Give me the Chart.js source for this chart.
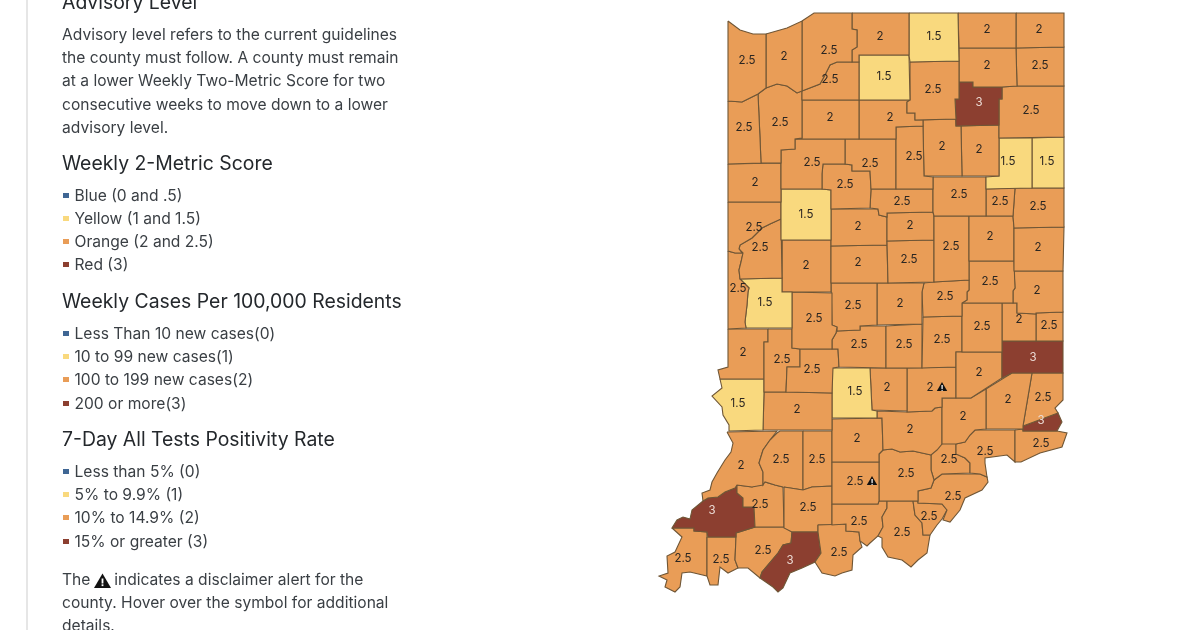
<!DOCTYPE html>
<html>
<head>
<meta charset="utf-8">
<script src="https://cdn.jsdelivr.net/npm/chart.js@4"></script>
<style>
  html, body { margin: 0; padding: 0; background: #fff; }
  body { width: 1200px; height: 630px; overflow: hidden; position: relative; font-family: Inter, "Open Sans", sans-serif; color: #3a3f44; }
  #map { position: absolute; left: 0; top: 0; }
  #rule { position: absolute; left: 26px; top: 0; width: 2px; height: 630px; background: #e6e6e6; }
  .t { position: absolute; left: 62px; white-space: nowrap; font-size: 15.6px; line-height: 20px; }
  .h { font-size: 19.4px; line-height: 26px; color: #24282c; }
  .k { position: absolute; left: 63px; width: 5.5px; height: 5.5px; }
  .t svg { vertical-align: -3px; margin: 0 -1px 0 -1px; }
</style>
</head>
<body>
<div id="rule"></div>
<canvas id="map" width="1200" height="630"></canvas>
<div id="side"></div>
<script>
const counties = ['Lake','Porter','LaPorte','St. Joseph','Elkhart','LaGrange','Steuben','Starke','Marshall','Kosciusko','Noble','DeKalb','Whitley','Allen',
  'Newton','Jasper','Pulaski','Fulton','White','Miami','Carroll','Wabash','Huntington','Wells','Adams','Benton','Cass','Tippecanoe','Grant','Howard','Blackford','Jay',
  'Randolph','Delaware','Madison','Tipton','Hamilton','Clinton','Boone','Warren','Fountain','Vermillion','Parke','Montgomery','Putnam','Hendricks','Marion','Hancock',
  'Henry','Wayne','Rush','Fayette','Union','Franklin','Decatur','Shelby','Johnson','Morgan','Owen','Clay','Vigo','Sullivan','Greene','Monroe','Brown','Bartholomew',
  'Jennings','Ripley','Dearborn','Ohio','Switzerland','Jefferson','Jackson','Lawrence','Orange','Washington','Scott','Clark','Floyd','Harrison','Crawford','Perry',
  'Spencer','Dubois','Martin','Daviess','Knox','Pike','Gibson','Warrick','Vanderburgh','Posey'];

const scores = [2.5,2,2.5,2,1.5,2,2,2.5,1.5,2.5,2,2.5,3,2.5,
  2.5,2.5,2,2,2.5,2.5,2.5,2,2,1.5,1.5,2,2.5,1.5,2.5,2.5,2.5,2.5,
  2,2,2.5,2,2.5,2,2,2.5,2.5,2.5,1.5,2,2.5,2.5,2,2.5,
  2.5,2,2.5,2,2.5,3,2,2.5,2.5,2.5,2.5,2.5,2,1.5,2,1.5,2,2,
  2,2,2.5,3,2.5,2.5,2,2,2.5,2.5,2.5,2.5,2.5,2.5,2.5,2.5,
  3,2.5,2.5,2.5,2,2.5,3,2.5,2.5,2.5];

const labelX = [747,784,829,880,934,987,1039,830,884,933,987,1040,979,1031,
  744,780,830,890,812,914,870,942,979,1008,1047,755,845,806,959,902,1000,1038,
  1038,990,951,910,909,858,858,754,760,738,765,806,814,853,900,945,
  990,1037,982,1019,1049,1033,979,942,904,859,812,782,743,738,797,855,887,930,
  963,1008,1043,1041,1041,985,910,857,855,906,949,953,929,902,859,839,
  790,808,817,781,741,760,712,763,721,683];
const labelY = [61,57,51,37,37,30,30,80,77,90,66,66,103,111,
  128,123,118,118,163,157,164,147,150,162,162,183,185,215,195,202,202,207,
  248,237,247,226,260,227,263,228,248,289,303,266,319,306,304,297,
  282,291,327,320,326,358,373,340,345,345,370,360,353,404,410,392,388,388,
  417,400,398,421,444,452,430,439,482,474,460,497,517,533,522,553,
  561,508,460,460,466,505,511,551,560,559];

// county outlines, flat x,y pairs in map units
const outlines = [
  [728,21,740,30,753,34,766,34,766,88,758,94,742,102,728,101],
  [766,34,787,28,802,21,802,91,797,93,787,86,777,84,766,88],
  [802,21,814,13,852,13,852,29,857,30,857,47,852,50,852,62,837,62,830,65,825,75,820,84,802,91],
  [852,13,909,13,909,55,859,55,859,62,852,62,852,50,857,47,857,30,852,29],
  [909,13,958,13,959,61,910,62,909,55],
  [958,13,1016,13,1016,48,959,48],
  [1016,13,1064,13,1064,47,1016,48],
  [837,62,859,62,859,100,802,100,802,91,820,84,825,75,830,65],
  [859,55,909,55,910,100,859,100],
  [910,62,959,61,959,99,955,99,956,119,915,120,915,113,907,113,907,102,910,100],
  [959,48,1016,48,1017,86,1002,87,973,87,973,82,959,82],
  [1016,48,1064,47,1064,86,1017,86],
  [959,82,973,82,973,87,1002,87,1002,99,999,99,999,125,956,126,955,99,959,99],
  [1002,87,1017,86,1064,86,1064,137,999,138,999,99,1002,99],
  [728,101,742,102,758,94,760,138,761,163,728,164],
  [758,94,766,88,777,84,787,86,797,93,802,91,802,138,795,139,795,149,781,150,781,163,761,163,760,138],
  [802,100,859,100,859,139,795,139,802,138],
  [859,100,910,100,907,102,907,113,915,113,915,120,923,120,923,126,896,127,896,139,859,139],
  [795,139,845,139,845,164,823,164,822,174,822,189,781,189,781,150,795,149],
  [896,127,923,126,924,176,933,177,933,189,896,189],
  [845,139,896,139,896,189,871,189,870,171,852,171,852,165,845,164],
  [923,120,956,119,956,126,961,126,962,176,924,176,923,126],
  [961,126,999,125,999,176,962,176],
  [999,138,1032,138,1032,188,986,189,986,177,999,176],
  [1032,138,1064,137,1064,188,1032,188],
  [728,164,781,163,781,202,728,202],
  [823,164,845,164,852,165,852,171,870,171,871,189,870,208,831,209,831,190,822,189,822,174],
  [781,189,822,189,831,190,831,240,782,240],
  [933,177,986,177,986,216,934,216,933,212,933,189],
  [871,189,933,189,933,212,887,213,887,217,879,215,878,209,870,208],
  [986,189,1015,188,1013,216,986,216],
  [1015,188,1064,188,1064,227,1014,228,1013,216],
  [1014,228,1064,227,1063,271,1014,271],
  [969,216,1013,216,1014,228,1014,261,969,261],
  [934,216,969,216,969,280,934,282],
  [887,213,933,212,934,216,934,240,887,241],
  [887,241,934,240,934,282,888,283],
  [831,209,878,209,879,215,887,217,887,245,831,246],
  [831,246,887,245,888,283,831,283],
  [728,202,781,202,781,219,770,224,762,228,752,238,740,245,739,249,742,253,735,253,728,251],
  [781,219,782,278,740,279,739,270,741,262,743,253,739,249,740,245,752,238,762,228,770,224],
  [728,251,735,253,743,253,741,262,739,270,740,279,749,288,748,292,747,305,745,322,746,328,728,329],
  [740,279,782,278,782,292,792,292,792,328,746,328,745,322,747,305,748,292,749,288],
  [782,240,831,240,831,292,792,292,782,292],
  [792,292,832,293,832,325,837,327,836,333,832,340,832,349,800,349,792,348],
  [831,283,877,283,877,325,860,326,860,330,837,331,837,327,832,325],
  [877,283,924,283,922,292,922,324,877,325],
  [924,283,934,282,969,280,969,290,967,292,967,300,962,303,962,316,923,317,922,292],
  [969,261,1014,261,1015,288,1013,291,1013,303,962,303,967,300,967,292,969,290],
  [1014,271,1063,271,1063,312,1036,313,1036,314,1017,313,1017,303,1013,303,1013,291,1015,288],
  [962,303,1002,303,1002,352,962,352],
  [1002,303,1017,303,1017,313,1036,314,1036,341,1002,341],
  [1036,313,1063,312,1063,341,1036,341],
  [1002,341,1063,341,1063,373,1012,373,1002,378],
  [962,352,1002,352,1002,378,971,398,956,398,956,367,956,352],
  [923,317,962,316,962,352,956,352,956,367,922,368],
  [886,326,922,324,922,368,886,368],
  [837,331,860,330,860,326,886,326,886,368,839,367,838,349,832,349,832,340,836,333],
  [800,349,838,349,839,367,833,368,832,393,786,392,787,367,800,367],
  [768,329,792,329,792,348,800,349,800,367,787,367,786,392,764,392,764,342,768,342],
  [728,329,768,329,768,342,764,342,764,379,720,379,718,370,728,367],
  [720,379,764,379,764,392,763,430,730,431,729,425,723,415,722,407,712,396,722,388],
  [764,392,786,392,832,393,832,430,763,430],
  [832,368,870,368,872,410,877,411,877,418,832,418],
  [870,368,907,368,907,411,872,410],
  [907,368,956,367,956,398,942,398,942,407,935,408,932,411,907,412],
  [942,398,971,398,986,389,986,429,975,430,970,435,965,442,956,444,942,444],
  [986,389,1012,373,1032,373,1023,426,1023,429,986,429],
  [1032,373,1063,373,1063,400,1055,408,1058,413,1023,426],
  [1023,426,1058,413,1062,422,1057,431,1023,431],
  [1015,430,1023,429,1023,431,1057,431,1067,433,1062,447,1040,453,1021,462,1015,462],
  [975,430,1015,430,1015,462,1007,455,985,458,985,463,987,477,980,474,970,473,970,463,965,458,956,454,956,444,965,442,970,435],
  [877,411,907,412,932,411,935,408,942,407,942,444,937,450,931,455,913,451,900,452,892,449,883,450,882,418,877,418],
  [832,419,882,418,883,450,879,454,879,462,832,462],
  [832,462,879,462,879,501,878,504,832,504],
  [879,454,883,450,892,449,900,452,913,451,931,455,931,470,934,480,931,488,918,491,918,501,879,501],
  [931,455,942,443,956,443,956,454,965,458,970,463,970,473,942,474,934,480,931,470],
  [918,491,931,488,934,480,942,474,980,474,987,477,988,482,982,490,965,498,960,510,950,522,943,520,947,510,942,504,918,503],
  [913,501,918,501,918,503,942,504,947,510,942,519,937,525,930,535,923,535,922,523,915,515],
  [887,501,913,501,915,515,922,523,923,535,930,535,927,553,918,560,911,567,902,560,888,557,882,547,882,538,878,536,883,527,882,517,887,508],
  [832,504,878,504,879,501,887,501,887,508,882,517,883,527,878,536,870,543,867,546,860,541,859,532,846,531,846,524,832,525],
  [818,525,846,524,846,531,859,532,860,541,862,547,853,555,852,570,842,573,835,576,822,573,815,562,821,553,818,532],
  [792,532,818,532,821,553,815,562,802,568,790,573,783,588,778,592,773,587,760,578,762,572,778,553,783,545,791,543],
  [784,487,803,490,812,487,832,486,832,525,818,525,818,532,792,532,784,528],
  [803,431,832,431,832,486,812,487,803,490],
  [780,431,803,431,803,490,783,487,775,485,765,482,763,485,763,472,759,463,763,450,770,440,777,433],
  [727,432,777,431,770,440,763,450,759,463,763,472,763,485,752,487,737,485,735,488,725,492,718,497,708,498,703,501,702,493,710,490,712,482,717,473,725,460,731,452,733,443],
  [737,485,752,487,765,482,775,485,783,487,784,527,755,527,754,507,743,507,743,498,737,493],
  [737,485,737,493,743,498,743,507,754,507,755,527,736,533,736,537,708,537,707,532,694,531,694,528,672,528,677,520,683,517,690,519,692,510,703,501,708,498,718,497,725,492,735,488],
  [736,533,755,527,784,527,792,532,791,543,783,545,778,553,762,572,760,578,748,568,738,568,735,560,736,537],
  [707,537,736,537,735,560,738,568,728,573,720,567,718,585,710,585,707,576],
  [672,528,694,528,694,531,707,532,707,576,690,572,682,573,680,587,675,592,665,587,667,580,659,576,668,573,667,556,675,552,682,537]
];

// counties that carry the disclaimer triangle
const alertCounties = ['Bartholomew','Orange'];
const alertX = [942,872];
const alertY = [388,482];

const scoreColors = { 1.5: '#f9d97e', 2: '#e99d57', 2.5: '#e99d57', 3: '#8c3f30' };

function toPoints(flat) {
  const pts = [];
  for (let i = 0; i < flat.length; i += 2) pts.push({ x: flat[i], y: flat[i + 1] });
  pts.push({ x: flat[0], y: flat[1] });
  return pts;
}

const countyDatasets = counties.map((name, i) => ({
  label: name,
  data: toPoints(outlines[i]),
  showLine: true,
  fill: 'shape',
  tension: 0,
  pointRadius: 0,
  borderWidth: 1.1,
  borderColor: '#6f5636',
  backgroundColor: scoreColors[scores[i]]
}));

const alertDataset = {
  label: 'alert',
  data: alertX.map((x, i) => ({ x: x, y: alertY[i] })),
  pointStyle: 'triangle',
  pointRadius: 6,
  borderWidth: 0,
  backgroundColor: '#111'
};

const scoreLabels = {
  id: 'scoreLabels',
  afterDatasetsDraw(chart) {
    const { ctx, scales: { x, y } } = chart;
    ctx.save();
    ctx.font = '11.5px Inter, "Open Sans", sans-serif';
    ctx.textAlign = 'center';
    ctx.textBaseline = 'middle';
    scores.forEach((s, i) => {
      ctx.fillStyle = s === 3 ? '#ecdcd6' : '#2b2622';
      ctx.fillText(String(s), x.getPixelForValue(labelX[i]), y.getPixelForValue(labelY[i]));
    });
    ctx.fillStyle = '#fff';
    ctx.font = 'bold 8px Inter, sans-serif';
    alertX.forEach((ax, i) => ctx.fillText('!', x.getPixelForValue(ax), y.getPixelForValue(alertY[i]) + 1));
    ctx.restore();
  }
};

new Chart(document.getElementById('map'), {
  type: 'scatter',
  data: { datasets: [alertDataset].concat(countyDatasets) },
  options: {
    responsive: false,
    animation: false,
    layout: { padding: 0, autoPadding: false },
    plugins: { legend: { display: false }, tooltip: { enabled: false } },
    scales: {
      x: { type: 'linear', display: false, min: 0, max: 1200 },
      y: { type: 'linear', display: false, min: 0, max: 630, reverse: true }
    }
  },
  plugins: [scoreLabels]
});

// left column text
const paragraphLines = ['Advisory level refers to the current guidelines','the county must follow. A county must remain','at a lower Weekly Two-Metric Score for two','consecutive weeks to move down to a lower','advisory level.'];
const paragraphY = [35,58,81,105,128];
const headings = ['Advisory Level','Weekly 2-Metric Score','Weekly Cases Per 100,000 Residents','7-Day All Tests Positivity Rate'];
const headingY = [2,163,301,439];
const legendItems = ['Blue (0 and .5)','Yellow (1 and 1.5)','Orange (2 and 2.5)','Red (3)',
  'Less Than 10 new cases(0)','10 to 99 new cases(1)','100 to 199 new cases(2)','200 or more(3)',
  'Less than 5% (0)','5% to 9.9% (1)','10% to 14.9% (2)','15% or greater (3)'];
const legendY = [196,219,242,265,334,357,380,404,472,495,518,542];
const legendColors = ['#3f6694','#f9d97e','#e99d57','#8c3f30'];
const noteLines = ['county. Hover over the symbol for additional','details.'];
const noteY = [603,626];

const side = document.getElementById('side');
function addLine(text, y, cls, h) {
  const d = document.createElement('div');
  d.className = cls;
  d.style.top = (y - h / 2) + 'px';
  d.textContent = text;
  side.appendChild(d);
  return d;
}
paragraphLines.forEach((s, i) => addLine(s, paragraphY[i], 't', 20));
headings.forEach((s, i) => addLine(s, headingY[i], 't h', 26));
legendItems.forEach((s, i) => {
  const d = addLine(s, legendY[i], 't', 20);
  d.style.left = '74.5px';
  const k = document.createElement('div');
  k.className = 'k';
  k.style.top = (legendY[i] - 3.5) + 'px';
  k.style.background = legendColors[i % 4];
  side.appendChild(k);
});
const noteFirst = addLine('', 580, 't', 20);
noteFirst.innerHTML = 'The <svg width="17" height="15" viewBox="0 0 17 15"><path d="M8.5 0.5L17 15H0Z" fill="#111"/><rect x="7.6" y="5.5" width="1.8" height="5" fill="#fff"/><rect x="7.6" y="11.3" width="1.8" height="1.8" fill="#fff"/></svg> indicates a disclaimer alert for the';
noteLines.forEach((s, i) => addLine(s, noteY[i], 't', 20));
</script>
</body>
</html>
